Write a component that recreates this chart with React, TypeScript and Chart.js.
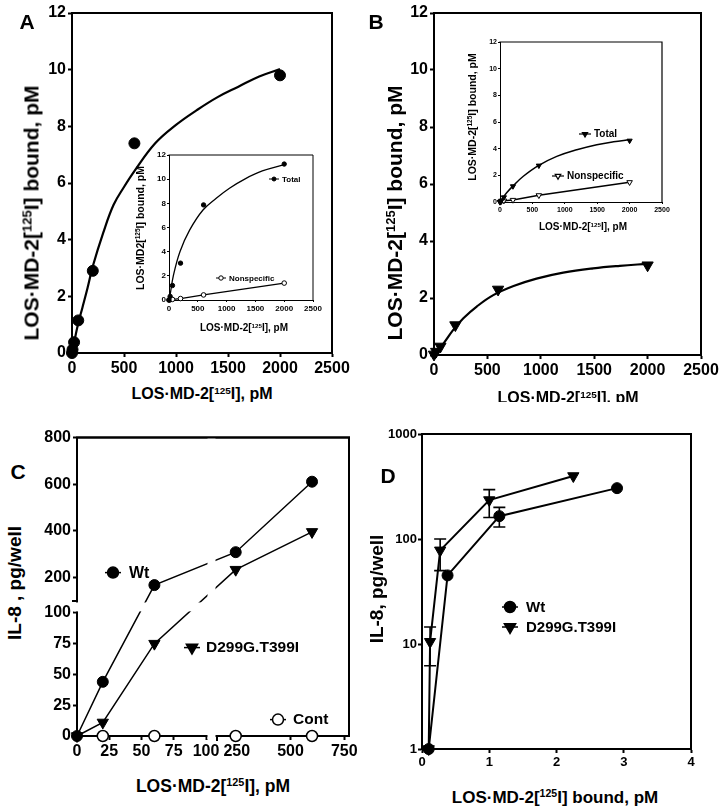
import React, { useEffect, useRef } from 'react';
import { Chart, registerables } from 'chart.js';

Chart.register(...registerables);

const FONT = '"Liberation Sans", Arial, Helvetica, sans-serif';

// ---------------- Panel A (specific binding, Wt) ----------------
const aConc = [0, 5, 20, 60, 200, 600, 2000];
const aBound = [0, 0.12, 0.38, 1.15, 2.9, 7.4, 9.8];
const aFitConc = [0, 20, 60, 100, 150, 200, 300, 400, 500, 600, 800, 1000, 1200, 1400, 1600, 1800, 2000];
const aFitBound = [0, 0.37, 1.05, 1.6, 2.3, 3.06, 4.24, 5.23, 5.86, 6.42, 7.4, 8.05, 8.57, 9.03, 9.4, 9.76, 10.02];
// Inset A
const aiConc = [0, 20, 60, 200, 600, 2000];
const aiTotal = [0, 0.3, 1.2, 3.05, 7.87, 11.25];
const aiNonspecific = [0, 0.02, 0.05, 0.12, 0.42, 1.4];
const aiFitConc = [0, 20, 75, 190, 360, 590, 820, 1050, 1330, 1620, 2000];
const aiFitTotal = [0, 0.45, 2.0, 4.0, 5.8, 7.45, 8.42, 9.25, 10.05, 10.68, 11.2];

// ---------------- Panel B (specific binding, D299G.T399I) ----------------
const bConc = [0, 20, 60, 200, 600, 2000];
const bBound = [0.02, 0.12, 0.3, 1.05, 2.3, 3.15];
const bFitConc = [0, 90, 180, 275, 400, 555, 745, 960, 1210, 1490, 1740, 2000];
const bFitBound = [0, 0.41, 0.88, 1.29, 1.7, 2.1, 2.42, 2.68, 2.89, 3.04, 3.13, 3.2];
// Inset B
const biConc = [0, 20, 60, 200, 600, 2000];
const biTotal = [0, 0.1, 0.35, 1.18, 2.73, 4.6];
const biNonspecific = [0, 0.05, 0.1, 0.15, 0.5, 1.48];
const biFitConc = [0, 26, 103, 206, 360, 592, 876, 1185, 1494, 1752, 2000];
const biFitTotal = [0, 0.19, 0.69, 1.23, 1.93, 2.73, 3.42, 3.92, 4.3, 4.52, 4.67];

// ---------------- Panel C (IL-8 vs dose, broken axes) ----------------
const cConc = [0, 20, 60, 245, 600];
const cWt = [0, 44, 168, 309, 611];
const cMutant = [0, 11, 75, 234, 396];
const cContConc = [20, 60, 245, 600];
const cCont = [0, 0, 0, 0];
const cXTicks = [0, 25, 50, 75, 100, 250, 500, 750];
const cYTicks = [0, 25, 50, 75, 100, 200, 400, 600, 800];

// ---------------- Panel D (IL-8 vs bound, log) ----------------
const dWtBound = [0.1, 0.38, 1.15, 2.9];
const dWtIL8 = [1, 45, 165, 305];
const dWtErrLo = [null, null, 130, null];
const dWtErrHi = [null, null, 200, null];
const dMutBound = [0.1, 0.12, 0.27, 1.0, 2.25];
const dMutIL8 = [1, 10.5, 78, 235, 398];
const dMutErrLo = [null, 6.2, 50, 160, null];
const dMutErrHi = [null, 14.5, 100, 295, null];
const dYTicks = [1, 10, 100, 1000];

// Broken-axis geometry for panel C (display units = pixels inside plot)
const C_X_SEG1 = [0, 100];
const C_X_SEG2_START = 158;
function fxC(v: number) {
  return v <= C_X_SEG1[1] ? v * 1.29 : 140 + (v - C_X_SEG2_START) * 0.215;
}
function fyC(v: number, upper = v > 100) {
  return upper ? 136 + (v - 100) * 0.235 : v * 1.24;
}

const xy = (xs: number[], ys: number[]) => xs.map((x, i) => ({ x, y: ys[i] }));

type Rect = { l: number; t: number; r: number; b: number };
type LegendItem = {
  x: number; y: number; tx: number; label: string;
  style: 'circle' | 'triangle'; filled: boolean; r: number; size: number; half: number; lw: number;
};

function drawMarker(ctx: CanvasRenderingContext2D, style: string, x: number, y: number, r: number, filled: boolean, lw: number) {
  ctx.save();
  ctx.beginPath();
  if (style === 'circle') {
    ctx.arc(x, y, r, 0, Math.PI * 2);
  } else {
    ctx.moveTo(x, y + r);
    ctx.lineTo(x - 0.866 * r, y - 0.5 * r);
    ctx.lineTo(x + 0.866 * r, y - 0.5 * r);
    ctx.closePath();
  }
  ctx.fillStyle = filled ? '#000' : '#fff';
  ctx.fill();
  ctx.lineWidth = lw;
  ctx.strokeStyle = '#000';
  ctx.stroke();
  ctx.restore();
}

function drawFrame(chart: any, lw: number) {
  const { ctx, chartArea: a } = chart;
  ctx.save();
  ctx.strokeStyle = '#000';
  ctx.lineWidth = lw;
  ctx.lineCap = 'square';
  ctx.beginPath();
  ctx.moveTo(a.left, a.top);
  ctx.lineTo(a.right, a.top);
  ctx.lineTo(a.right, a.bottom);
  ctx.stroke();
  ctx.restore();
}

function decoPlugin(p: { rect: Rect; frame: number; legend?: LegendItem[]; afterData?: (c: any) => void }) {
  return {
    id: 'deco',
    beforeDatasetsDraw(chart: any) {
      drawFrame(chart, p.frame);
    },
    afterDatasetsDraw(chart: any) {
      if (p.afterData) p.afterData(chart);
    },
    afterDraw(chart: any) {
      const { ctx, chartArea: a } = chart;
      (p.legend || []).forEach((it) => {
        const x = a.left + (it.x - p.rect.l);
        const y = a.top + (it.y - p.rect.t);
        const tx = a.left + (it.tx - p.rect.l);
        ctx.save();
        ctx.strokeStyle = '#000';
        ctx.lineWidth = it.lw;
        ctx.beginPath();
        ctx.moveTo(x - it.half, y);
        ctx.lineTo(x + it.half, y);
        ctx.stroke();
        ctx.restore();
        drawMarker(ctx, it.style, x, y, it.r, it.filled, it.lw);
        ctx.save();
        ctx.fillStyle = '#000';
        ctx.font = `bold ${it.size}px ${FONT}`;
        ctx.textAlign = 'left';
        ctx.textBaseline = 'middle';
        ctx.fillText(it.label, tx, y + 0.5);
        ctx.restore();
      });
    },
  };
}

function axis(kind: 'x' | 'y', m: Rect, o: any) {
  const s: any = {
    type: o.type || 'linear',
    min: o.min,
    max: o.max,
    position: kind === 'x' ? 'bottom' : 'left',
    border: { display: true, color: '#000', width: o.lw },
    grid: { display: true, drawOnChartArea: false, drawTicks: true, tickLength: o.tickLen, tickWidth: o.lw, tickColor: '#000' },
    ticks: {
      color: '#000',
      font: { family: FONT, size: o.size, weight: 'bold' },
      padding: o.pad ?? 2,
      autoSkip: false,
      maxRotation: 0,
      minRotation: 0,
      callback: (v: any) => String(v),
    },
    afterFit: (sc: any) => {
      if (kind === 'x') sc.height = m.b;
      else sc.width = m.l;
    },
  };
  if (o.step) s.ticks.stepSize = o.step;
  if (o.ticks) {
    const vals: number[] = o.ticks;
    const labels: string[] | undefined = o.labels;
    s.afterBuildTicks = (sc: any) => {
      sc.ticks = vals.map((v) => ({ value: v }));
    };
    s.ticks.callback = (_v: any, i: number) => (labels ? labels[i] : String(vals[i]));
  }
  return s;
}

function baseOptions(m: Rect) {
  return {
    responsive: false,
    maintainAspectRatio: false,
    animation: false,
    events: [],
    layout: { padding: { left: 0, top: m.t, right: m.r, bottom: 0 } },
    plugins: { legend: { display: false }, tooltip: { enabled: false }, title: { display: false } },
  };
}

const lineDs = (data: any[], lw: number, smooth: boolean) => ({
  data,
  showLine: true,
  borderColor: '#000',
  borderWidth: lw,
  pointRadius: 0,
  tension: smooth ? 0.4 : 0,
  fill: false,
  clip: false,
});

const pointDs = (data: any[], style: string, r: number, filled: boolean, bw: number, lineW = 0) => ({
  data,
  showLine: lineW > 0,
  borderColor: '#000',
  borderWidth: lineW,
  tension: 0,
  pointStyle: style,
  pointRadius: r,
  pointRotation: style === 'triangle' ? 180 : 0,
  pointBackgroundColor: filled ? '#000' : '#fff',
  pointBorderColor: '#000',
  pointBorderWidth: bw,
  clip: false,
});

function ChartCanvas({ rect, m, build }: { rect: Rect; m: Rect; build: () => any }) {
  const ref = useRef<HTMLCanvasElement>(null);
  const w = rect.r - rect.l + m.l + m.r;
  const h = rect.b - rect.t + m.t + m.b;
  useEffect(() => {
    const chart = new Chart(ref.current as HTMLCanvasElement, build());
    return () => chart.destroy();
  }, []);
  return (
    <canvas
      ref={ref}
      width={w}
      height={h}
      style={{ position: 'absolute', left: rect.l - m.l, top: rect.t - m.t, width: w, height: h }}
    />
  );
}

// ---------- geometry ----------
const rA: Rect = { l: 72, t: 13, r: 332, b: 353 };
const mA: Rect = { l: 46, t: 12, r: 22, b: 30 };
const rAi: Rect = { l: 169, t: 155, r: 313, b: 300 };
const mAi: Rect = { l: 20, t: 6, r: 12, b: 14 };
const rB: Rect = { l: 434, t: 13, r: 701, b: 355 };
const mB: Rect = { l: 46, t: 12, r: 22, b: 30 };
const rBi: Rect = { l: 500, t: 42, r: 662, b: 202 };
const mBi: Rect = { l: 18, t: 6, r: 12, b: 12 };
const rC: Rect = { l: 77, t: 436, r: 349, b: 736 };
const mC: Rect = { l: 46, t: 10, r: 22, b: 28 };
const rD: Rect = { l: 422, t: 434, r: 691, b: 749 };
const mD: Rect = { l: 40, t: 10, r: 16, b: 24 };

const buildA = () => ({
  type: 'scatter',
  data: {
    datasets: [
      lineDs(xy(aFitConc, aFitBound), 2.2, true),
      pointDs(xy(aConc, aBound), 'circle', 5.5, true, 1),
    ],
  },
  options: {
    ...baseOptions(mA),
    scales: {
      x: axis('x', mA, { min: 0, max: 2500, step: 500, size: 16, tickLen: 4, lw: 2, pad: 2 }),
      y: axis('y', mA, { min: 0, max: 12, step: 2, size: 16, tickLen: 4, lw: 2, pad: 2 }),
    },
  },
  plugins: [decoPlugin({ rect: rA, frame: 2 })],
});

const buildAi = () => ({
  type: 'scatter',
  data: {
    datasets: [
      lineDs(xy(aiFitConc, aiFitTotal), 1.3, true),
      pointDs(xy(aiConc, aiTotal), 'circle', 2.2, true, 1),
      pointDs(xy(aiConc, aiNonspecific), 'circle', 2.3, false, 1, 1.3),
    ],
  },
  options: {
    ...baseOptions(mAi),
    scales: {
      x: axis('x', mAi, { min: 0, max: 2500, step: 500, size: 8, tickLen: 2, lw: 1, pad: 2 }),
      y: axis('y', mAi, { min: 0, max: 12, step: 2, size: 8, tickLen: 2, lw: 1, pad: 1 }),
    },
  },
  plugins: [
    decoPlugin({
      rect: rAi,
      frame: 1,
      legend: [
        { x: 274, y: 179, tx: 282, label: 'Total', style: 'circle', filled: true, r: 2, size: 8, half: 5, lw: 1 },
        { x: 221, y: 278, tx: 229, label: 'Nonspecific', style: 'circle', filled: false, r: 2.2, size: 8, half: 5, lw: 1 },
      ],
    }),
  ],
});

const buildB = () => ({
  type: 'scatter',
  data: {
    datasets: [
      lineDs(xy(bFitConc, bFitBound), 2.2, true),
      pointDs(xy(bConc, bBound), 'triangle', 6.5, true, 1),
    ],
  },
  options: {
    ...baseOptions(mB),
    scales: {
      x: axis('x', mB, { min: 0, max: 2500, step: 500, size: 16, tickLen: 4, lw: 2, pad: 2 }),
      y: axis('y', mB, { min: 0, max: 12, step: 2, size: 16, tickLen: 4, lw: 2, pad: 2 }),
    },
  },
  plugins: [decoPlugin({ rect: rB, frame: 2 })],
});

const buildBi = () => ({
  type: 'scatter',
  data: {
    datasets: [
      lineDs(xy(biFitConc, biFitTotal), 1.5, true),
      pointDs(xy(biConc, biTotal), 'triangle', 3, true, 1),
      pointDs(xy(biConc, biNonspecific), 'triangle', 3.2, false, 1, 1.5),
    ],
  },
  options: {
    ...baseOptions(mBi),
    scales: {
      x: axis('x', mBi, { min: 0, max: 2500, step: 500, size: 7, tickLen: 2, lw: 1, pad: 2 }),
      y: axis('y', mBi, { min: 0, max: 12, step: 2, size: 7, tickLen: 2, lw: 1, pad: 1 }),
    },
  },
  plugins: [
    decoPlugin({
      rect: rBi,
      frame: 1.2,
      legend: [
        { x: 585, y: 134, tx: 594, label: 'Total', style: 'triangle', filled: true, r: 3, size: 10, half: 6, lw: 1.2 },
        { x: 558, y: 176, tx: 567, label: 'Nonspecific', style: 'triangle', filled: false, r: 3.2, size: 10, half: 6, lw: 1.2 },
      ],
    }),
  ],
});

const buildC = () => ({
  type: 'scatter',
  data: {
    datasets: [
      pointDs(cConc.map((x, i) => ({ x: fxC(x), y: fyC(cWt[i]) })), 'circle', 5.5, true, 1, 1.5),
      pointDs(cConc.map((x, i) => ({ x: fxC(x), y: fyC(cMutant[i]) })), 'triangle', 6.5, true, 1, 1.5),
      pointDs(cContConc.map((x, i) => ({ x: fxC(x), y: fyC(cCont[i]) })), 'circle', 5.5, false, 1.5),
    ],
  },
  options: {
    ...baseOptions(mC),
    scales: {
      x: axis('x', mC, {
        min: 0, max: 272, size: 16, tickLen: 4, lw: 2, pad: 2,
        ticks: cXTicks.map((v) => fxC(v)), labels: cXTicks.map(String),
      }),
      y: axis('y', mC, {
        min: 0, max: 300.5, size: 16, tickLen: 4, lw: 2, pad: 2,
        ticks: cYTicks.map((v) => fyC(v, v > 100)), labels: cYTicks.map(String),
      }),
    },
  },
  plugins: [
    decoPlugin({
      rect: rC,
      frame: 2,
      legend: [
        { x: 113, y: 571, tx: 129, label: 'Wt', style: 'circle', filled: true, r: 5.5, size: 16, half: 8, lw: 1.5 },
        { x: 192, y: 646, tx: 206, label: 'D299G.T399I', style: 'triangle', filled: true, r: 6.5, size: 15.5, half: 8, lw: 1.5 },
        { x: 278, y: 718, tx: 293, label: 'Cont', style: 'circle', filled: false, r: 5.5, size: 15.5, half: 8, lw: 1.5 },
      ],
      afterData: (chart: any) => {
        const { ctx, chartArea: a, scales } = chart;
        const xs = scales.x;
        const ys = scales.y;
        const gx0 = xs.getPixelForValue(fxC(C_X_SEG1[1]));
        const gx1 = xs.getPixelForValue(fxC(C_X_SEG2_START));
        const gyUpper = ys.getPixelForValue(fyC(100, true));
        const gyLower = ys.getPixelForValue(fyC(100, false));
        ctx.save();
        ctx.fillStyle = '#fff';
        ctx.fillRect(gx0 + 1.5, a.top, gx1 - gx0 - 3, a.bottom - a.top + 3);
        ctx.fillRect(a.left - 3, gyUpper + 1.5, a.right - a.left + 6, gyLower - gyUpper - 3);
        ctx.strokeStyle = '#000';
        ctx.lineWidth = 2;
        ctx.beginPath();
        ctx.moveTo(gx1, a.bottom - 1);
        ctx.lineTo(gx1, a.bottom + 5);
        ctx.moveTo(a.left + 1, gyUpper);
        ctx.lineTo(a.left - 5, gyUpper);
        ctx.stroke();
        ctx.restore();
        drawFrame(chart, 2);
      },
    }),
  ],
});

const buildD = () => ({
  type: 'scatter',
  data: {
    datasets: [
      pointDs(xy(dWtBound, dWtIL8), 'circle', 5.5, true, 1, 2),
      pointDs(xy(dMutBound, dMutIL8), 'triangle', 6.5, true, 1, 2),
    ],
  },
  options: {
    ...baseOptions(mD),
    scales: {
      x: axis('x', mD, { min: 0, max: 4, step: 1, size: 13, tickLen: 4, lw: 2, pad: 2 }),
      y: axis('y', mD, { type: 'logarithmic', min: 1, max: 1000, size: 13, tickLen: 4, lw: 2, pad: 1, ticks: dYTicks }),
    },
  },
  plugins: [
    decoPlugin({
      rect: rD,
      frame: 2,
      legend: [
        { x: 510, y: 607, tx: 526, label: 'Wt', style: 'circle', filled: true, r: 5.5, size: 15, half: 8, lw: 1.5 },
        { x: 510, y: 627, tx: 526, label: 'D299G.T399I', style: 'triangle', filled: true, r: 6.5, size: 15, half: 8, lw: 1.5 },
      ],
      afterData: (chart: any) => {
        const { ctx, scales } = chart;
        const drawErr = (x: number, lo: number, hi: number) => {
          const px = scales.x.getPixelForValue(x);
          const p1 = scales.y.getPixelForValue(lo);
          const p2 = scales.y.getPixelForValue(hi);
          ctx.beginPath();
          ctx.moveTo(px, p1);
          ctx.lineTo(px, p2);
          ctx.moveTo(px - 6, p1);
          ctx.lineTo(px + 6, p1);
          ctx.moveTo(px - 6, p2);
          ctx.lineTo(px + 6, p2);
          ctx.stroke();
        };
        ctx.save();
        ctx.strokeStyle = '#000';
        ctx.lineWidth = 1.6;
        dWtBound.forEach((x, i) => {
          const lo = dWtErrLo[i];
          const hi = dWtErrHi[i];
          if (lo != null && hi != null) drawErr(x, lo, hi);
        });
        dMutBound.forEach((x, i) => {
          const lo = dMutErrLo[i];
          const hi = dMutErrHi[i];
          if (lo != null && hi != null) drawErr(x, lo, hi);
        });
        ctx.restore();
      },
    }),
  ],
});

function Label({ x, y, size, rotate, children }: { x: number; y: number; size: number; rotate?: boolean; children: any }) {
  return (
    <div
      style={{
        position: 'absolute',
        left: x,
        top: y,
        transform: `translate(-50%, -50%)${rotate ? ' rotate(-90deg)' : ''}`,
        font: `bold ${size}px ${FONT}`,
        lineHeight: 1,
        whiteSpace: 'nowrap',
        color: '#000',
      }}
    >
      {children}
    </div>
  );
}

const Sup = () => (
  <span style={{ fontSize: '0.62em', position: 'relative', top: '-0.55em' }}>125</span>
);

export default function App() {
  return (
    <div
      style={{
        position: 'fixed',
        left: 0,
        top: 0,
        width: 724,
        height: 811,
        background: '#fff',
        overflow: 'hidden',
      }}
    >
      <ChartCanvas rect={rA} m={mA} build={buildA} />
      <ChartCanvas rect={rAi} m={mAi} build={buildAi} />
      <ChartCanvas rect={rB} m={mB} build={buildB} />
      <ChartCanvas rect={rBi} m={mBi} build={buildBi} />
      <ChartCanvas rect={rC} m={mC} build={buildC} />
      <ChartCanvas rect={rD} m={mD} build={buildD} />

      <Label x={27} y={21} size={21}>A</Label>
      <Label x={376} y={21} size={21}>B</Label>
      <Label x={18} y={471} size={21}>C</Label>
      <Label x={388} y={475} size={21}>D</Label>

      <Label x={31} y={213} size={21} rotate>LOS·MD-2[<Sup />I] bound, pM</Label>
      <Label x={202} y={394} size={16}>LOS·MD-2[<Sup />I], pM</Label>
      <Label x={140} y={228} size={10.5} rotate>LOS·MD2[<Sup />I] bound, pM</Label>
      <Label x={244} y={328} size={10}>LOS·MD-2[<Sup />I], pM</Label>

      <Label x={394} y={213} size={21} rotate>LOS·MD-2[<Sup />I] bound, pM</Label>
      <div style={{ position: 'absolute', left: 0, top: 370, width: 724, height: 32, overflow: 'hidden' }}>
        <Label x={568} y={28} size={16}>LOS·MD-2[<Sup />I], pM</Label>
      </div>
      <Label x={472} y={117} size={10.5} rotate>LOS·MD-2[<Sup />I] bound, pM</Label>
      <Label x={583} y={227} size={10}>LOS·MD-2[<Sup />I], pM</Label>

      <Label x={14} y={583} size={19} rotate>IL-8 , pg/well</Label>
      <Label x={213} y={787} size={17.5}>LOS·MD-2[<Sup />I], pM</Label>

      <Label x={376} y={589} size={19} rotate>IL-8, pg/well</Label>
      <Label x={555} y={797} size={17}>LOS·MD-2[<Sup />I] bound, pM</Label>
    </div>
  );
}
